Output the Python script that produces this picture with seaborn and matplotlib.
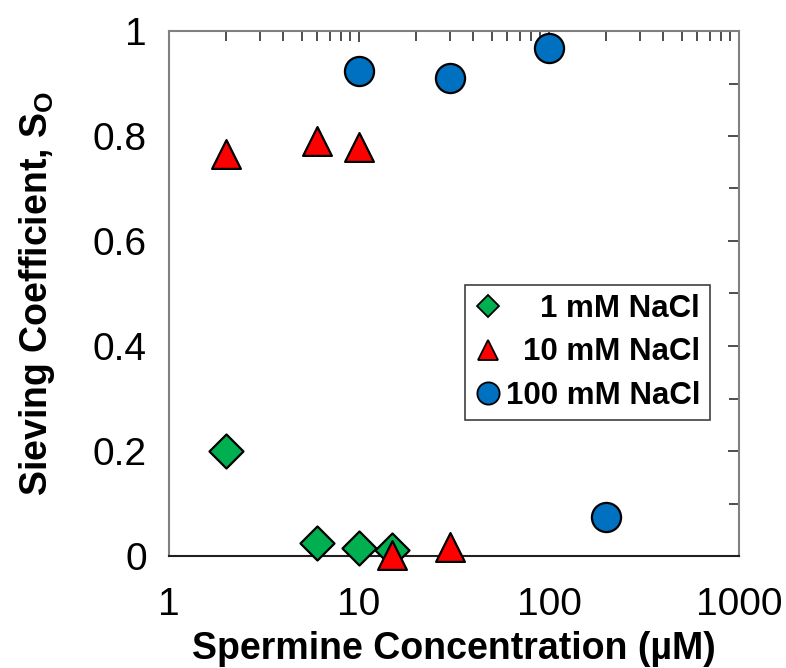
import matplotlib
matplotlib.use("Agg")
import matplotlib.pyplot as plt
import seaborn as sns
import pandas as pd
from matplotlib.lines import Line2D
from matplotlib.ticker import LogLocator, MultipleLocator, FixedLocator, NullFormatter

# ---- data ----
labels = ["1 mM NaCl", "10 mM NaCl", "100 mM NaCl"]
x_1mM = [2, 6, 10, 15]
y_1mM = [0.200, 0.025, 0.015, 0.012]
x_10mM = [2, 6, 10, 15, 30]
y_10mM = [0.765, 0.790, 0.780, 0.002, 0.018]
x_100mM = [10, 30, 100, 200]
y_100mM = [0.923, 0.910, 0.967, 0.075]
x_ticks = [1, 10, 100, 1000]
x_ticklabels = ["1", "10", "100", "1000"]
y_ticks = [0, 0.2, 0.4, 0.6, 0.8, 1.0]
y_ticklabels = ["0", "0.2", "0.4", "0.6", "0.8", "1"]

colors = {"1 mM NaCl": "#00B050", "10 mM NaCl": "#FF0000", "100 mM NaCl": "#0070C0"}
markers = {"1 mM NaCl": "D", "10 mM NaCl": "^", "100 mM NaCl": "o"}
sizes = {"1 mM NaCl": 300, "10 mM NaCl": 430, "100 mM NaCl": 440}

df = pd.DataFrame({
    "x": x_1mM + x_10mM + x_100mM,
    "y": y_1mM + y_10mM + y_100mM,
    "series": [labels[0]] * len(x_1mM) + [labels[1]] * len(x_10mM) + [labels[2]] * len(x_100mM),
})

sns.set_theme(style="white")
plt.rcParams["font.family"] = ["Liberation Sans", "DejaVu Sans"]
plt.rcParams["mathtext.fontset"] = "custom"
plt.rcParams["mathtext.rm"] = "Liberation Sans:bold"
plt.rcParams["mathtext.default"] = "rm"
plt.rcParams["text.color"] = "black"
plt.rcParams["axes.labelcolor"] = "black"

fig = plt.figure(figsize=(7.86, 6.68), dpi=100)
ax = fig.add_axes([169 / 786, 1 - 556 / 668, (739 - 169) / 786, (556 - 31) / 668])

for lab in labels:
    sub = df[df["series"] == lab]
    sns.scatterplot(data=sub, x="x", y="y", ax=ax, marker=markers[lab], s=sizes[lab],
                    color=colors[lab], edgecolor="black", linewidth=1.6, zorder=3,
                    legend=False, clip_on=False)

ax.set_xscale("log")
ax.set_xlim(1, 1000)
ax.set_ylim(0, 1)
ax.xaxis.set_major_locator(FixedLocator(x_ticks))
ax.set_xticklabels(x_ticklabels)
ax.xaxis.set_minor_locator(LogLocator(base=10, subs=range(2, 10)))
ax.xaxis.set_minor_formatter(NullFormatter())
ax.set_yticks(y_ticks)
ax.set_yticklabels(y_ticklabels)
ax.yaxis.set_minor_locator(MultipleLocator(0.1))

for name, s in ax.spines.items():
    s.set_color("#202020" if name == "bottom" else "#808080")
    s.set_linewidth(1.5)
    s.set_visible(True)

ax.tick_params(axis="both", which="both", direction="in", top=True, right=True,
               color="#303030", width=1.2)
ax.tick_params(axis="both", which="major", length=8, labelsize=28, labelcolor="black")
ax.tick_params(axis="both", which="minor", length=7)
ax.tick_params(axis="x", which="major", pad=22)
ax.tick_params(axis="y", which="major", pad=16)

ax.set_xlabel("Spermine Concentration (µM)", fontsize=27, fontweight="bold", labelpad=6)
ax.set_ylabel(r"Sieving Coefficient, S$_{\mathrm{O}}$", fontsize=27, fontweight="bold", labelpad=26)
ax.grid(False)

handles = [Line2D([], [], linestyle="none", marker=markers[l], markersize={"D": 11, "^": 15, "o": 16}[markers[l]],
                  markerfacecolor=colors[l], markeredgecolor="black", markeredgewidth=1.3)
           for l in labels]
leg = ax.legend(handles, labels, loc="upper left", bbox_to_anchor=((465 - 169) / 570, 1 - (285 - 31) / 525),
                frameon=True, fancybox=False, edgecolor="#404040", framealpha=1,
                prop={"size": 22.5, "weight": "bold", "family": "Liberation Sans"},
                handletextpad=0.1, borderpad=0.3, labelspacing=0.42, handlelength=0.9,
                borderaxespad=0)
leg.get_frame().set_linewidth(1.2)

fig.canvas.draw()
renderer = fig.canvas.get_renderer()
widths = [t.get_window_extent(renderer).width for t in leg.get_texts()]
maxw = max(widths)
for t, w in zip(leg.get_texts(), widths):
    t.set_position((maxw - w, 0))

fig.savefig("out.png", dpi=100)
